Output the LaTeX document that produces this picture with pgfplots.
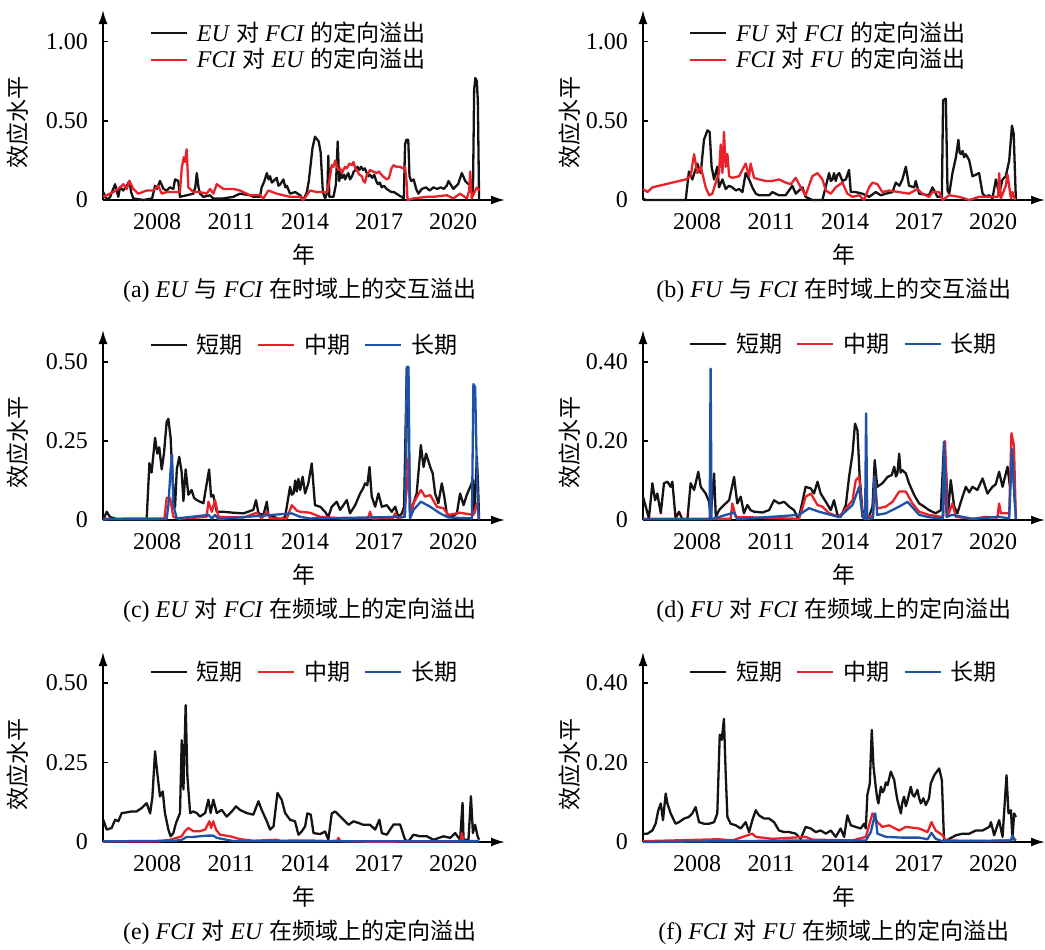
\documentclass[border=0pt]{standalone}
\usepackage{fontspec}
\setmainfont{Liberation Serif}
\newfontfamily\cjk[Scale=0.96]{Noto Sans CJK SC}
\usepackage{pgfplots}
\pgfplotsset{compat=1.18}
\usetikzlibrary{arrows.meta}
\newcommand{\zh}[1]{{\cjk #1}}
\definecolor{cred}{RGB}{232,34,40}
\definecolor{cblue}{RGB}{30,82,168}
\definecolor{cblk}{RGB}{20,20,20}
\pgfplotsset{
 panel/.style={
  scale only axis, width=201pt, height=95pt,
  xmin=2005.81, xmax=2022.1, ymin=0,
  axis lines=left,
  axis line style={line width=0.9pt, -{Latex[length=7pt,width=4.5pt]}},
  xtick={2008,2011,2014,2017,2020},
  xticklabels={2008,2011,2014,2017,2020},
  major x tick style={draw=none},
  tick align=inside, major tick length=2.5pt,
  major y tick style={line width=0.8pt, black},
  yticklabel style={anchor=east, xshift=-4pt},
  xticklabel style={yshift=-3pt},
  tick label style={font=\fontsize{12}{14}\selectfont},
  clip=false,
  font=\fontsize{12}{14}\selectfont,
  xlabel={\zh{年}},
  xlabel style={at={(axis description cs:0.5,-0.289)}, anchor=center},
  ylabel={\zh{效应水平}},
  legend style={draw=none, fill=none, inner sep=0pt, font=\fontsize{12}{14}\selectfont,
     nodes={inner sep=1pt}, /tikz/every even column/.append style={column sep=6pt}},
  legend cell align=left,
  legend image code/.code={\draw[##1, line width=1.1pt] (0pt,0pt) -- (18pt,0pt); \path (21.5pt,0pt);},
  every axis plot/.append style={line width=1.15pt, line join=round},
 },
 leftp/.style={ylabel style={at={(axis description cs:-0.211,0.41)}, anchor=center}},
 rightp/.style={ylabel style={at={(axis description cs:-0.182,0.41)}, anchor=center}},
}
\begin{document}
\begin{tikzpicture}
\useasboundingbox (0,0) rectangle (522.5pt,-474.5pt);
% ---------------- (a)
\begin{axis}[panel, leftp, at={(51.5pt,-100pt)}, anchor=south west,
  ymax=1.2, ytick={0,0.5,1}, yticklabels={0,0.50,1.00},
  legend style={at={(axis description cs:0.115,0.808)}, anchor=west}]
\addplot[cblk] coordinates {
(2005.82,0.05)(2005.96,0.0)(2006.10,0.02)(2006.30,0.10)(2006.43,0.02)(2006.50,0.08)(2006.63,0.06)(2006.77,0.09)(2006.88,0.12)(2006.95,0.05)(2007.04,0.01)(2007.45,0.0)(2007.80,0.01)(2007.92,0.09)(2008.0,0.07)(2008.12,0.12)(2008.26,0.07)(2008.39,0.06)(2008.52,0.08)(2008.66,0.07)(2008.73,0.13)(2008.86,0.12)(2008.93,0.02)(2009.20,0.03)(2009.47,0.04)(2009.55,0.08)(2009.61,0.17)(2009.68,0.08)(2009.74,0.04)(2009.88,0.02)(2010.15,0.03)(2010.28,0.01)(2010.69,0.01)(2011.09,0.02)(2011.36,0.04)(2011.77,0.03)(2011.90,0.02)(2012.17,0.02)(2012.24,0.08)(2012.35,0.12)(2012.45,0.17)(2012.52,0.13)(2012.58,0.15)(2012.65,0.11)(2012.72,0.12)(2012.85,0.14)(2012.92,0.09)(2013.0,0.10)(2013.12,0.13)(2013.20,0.08)(2013.26,0.09)(2013.39,0.04)(2013.60,0.05)(2013.80,0.03)(2013.93,0.0)(2014.07,0.05)(2014.15,0.12)(2014.30,0.33)(2014.40,0.40)(2014.55,0.37)(2014.63,0.30)(2014.72,0.05)(2014.81,0.01)(2014.90,0.05)(2014.94,0.28)(2014.98,0.02)(2015.15,0.02)(2015.25,0.10)(2015.32,0.37)(2015.38,0.12)(2015.45,0.17)(2015.50,0.14)(2015.58,0.16)(2015.62,0.13)(2015.68,0.15)(2015.75,0.17)(2015.82,0.13)(2015.90,0.15)(2015.97,0.18)(2016.05,0.19)(2016.12,0.21)(2016.20,0.19)(2016.27,0.21)(2016.35,0.19)(2016.42,0.20)(2016.50,0.17)(2016.57,0.15)(2016.63,0.16)(2016.72,0.14)(2016.80,0.16)(2016.88,0.12)(2016.95,0.10)(2017.03,0.11)(2017.10,0.08)(2017.20,0.09)(2017.30,0.07)(2017.40,0.06)(2017.50,0.05)(2017.60,0.05)(2017.70,0.04)(2017.90,0.02)(2018.00,0.01)(2018.05,0.35)(2018.10,0.38)(2018.18,0.38)(2018.23,0.15)(2018.30,0.12)(2018.40,0.13)(2018.50,0.07)(2018.59,0.04)(2018.73,0.07)(2018.90,0.08)(2019.05,0.06)(2019.20,0.08)(2019.35,0.07)(2019.50,0.08)(2019.62,0.07)(2019.74,0.09)(2019.81,0.12)(2020.01,0.07)(2020.20,0.10)(2020.35,0.17)(2020.49,0.12)(2020.69,0.09)(2020.80,0.03)(2020.85,0.70)(2020.90,0.77)(2020.96,0.75)(2021.00,0.62)(2021.05,0.0)
};
\addlegendentry{\textit{EU} \zh{对} \textit{FCI} \zh{的定向溢出}}
\addplot[cred] coordinates {
(2005.82,0.02)(2006.23,0.05)(2006.50,0.08)(2006.63,0.10)(2006.77,0.07)(2006.88,0.12)(2007.04,0.07)(2007.24,0.04)(2007.58,0.06)(2007.85,0.06)(2008.05,0.09)(2008.19,0.04)(2008.39,0.05)(2008.66,0.05)(2008.93,0.05)(2009.00,0.20)(2009.08,0.27)(2009.13,0.24)(2009.20,0.32)(2009.27,0.08)(2009.47,0.05)(2009.74,0.05)(2010.01,0.04)(2010.15,0.07)(2010.28,0.04)(2010.42,0.10)(2010.69,0.07)(2011.09,0.07)(2011.36,0.06)(2011.77,0.03)(2012.17,0.03)(2012.31,0.01)(2012.51,0.06)(2012.85,0.04)(2013.39,0.02)(2013.80,0.02)(2013.93,0.0)(2014.20,0.06)(2014.47,0.05)(2014.90,0.05)(2015.01,0.15)(2015.08,0.22)(2015.15,0.21)(2015.22,0.25)(2015.28,0.22)(2015.35,0.19)(2015.42,0.20)(2015.50,0.17)(2015.55,0.19)(2015.62,0.21)(2015.69,0.20)(2015.80,0.23)(2015.90,0.22)(2015.96,0.24)(2016.03,0.20)(2016.09,0.19)(2016.20,0.16)(2016.30,0.15)(2016.36,0.12)(2016.43,0.11)(2016.50,0.16)(2016.57,0.17)(2016.63,0.19)(2016.75,0.18)(2016.90,0.17)(2017.00,0.18)(2017.04,0.17)(2017.15,0.15)(2017.31,0.13)(2017.40,0.14)(2017.50,0.20)(2017.58,0.22)(2017.70,0.21)(2017.85,0.21)(2017.95,0.20)(2018.05,0.21)(2018.12,0.10)(2018.15,0.0)(2018.39,0.01)(2018.93,0.02)(2019.20,0.02)(2019.74,0.03)(2020.01,0.01)(2020.28,0.04)(2020.55,0.01)(2020.65,0.06)(2020.69,0.18)(2020.75,0.01)(2020.96,0.08)(2021.05,0.06)
};
\addlegendentry{\textit{FCI} \zh{对} \textit{EU} \zh{的定向溢出}}
\node at (axis description cs:0.49,-0.474) {(a) \textit{EU} \zh{与} \textit{FCI} \zh{在时域上的交互溢出}};
\end{axis}
% ---------------- (b)
\begin{axis}[panel, rightp, at={(321.5pt,-100pt)}, anchor=south west,
  ymax=1.2, ytick={0,0.5,1}, yticklabels={0,0.50,1.00},
  legend style={at={(axis description cs:0.113,0.808)}, anchor=west}]
\addplot[cblk] coordinates {
(2005.81,0.01)(2005.92,0.0)(2007.54,0.0)(2007.67,0.18)(2007.81,0.13)(2008.01,0.23)(2008.15,0.17)(2008.28,0.38)(2008.42,0.44)(2008.51,0.43)(2008.59,0.21)(2008.69,0.13)(2008.82,0.21)(2008.89,0.08)(2009.03,0.13)(2009.16,0.07)(2009.30,0.09)(2009.43,0.08)(2009.57,0.06)(2009.70,0.07)(2009.84,0.05)(2009.97,0.17)(2010.11,0.13)(2010.24,0.08)(2010.38,0.04)(2010.51,0.03)(2010.92,0.03)(2011.05,0.05)(2011.32,0.03)(2011.59,0.03)(2011.86,0.09)(2012.00,0.04)(2012.27,0.08)(2012.40,0.02)(2012.67,0.0)(2013.08,0.0)(2013.35,0.17)(2013.42,0.12)(2013.49,0.13)(2013.55,0.17)(2013.62,0.12)(2013.69,0.16)(2013.76,0.17)(2013.89,0.12)(2014.03,0.13)(2014.16,0.19)(2014.23,0.05)(2014.43,0.05)(2014.70,0.04)(2014.97,0.02)(2015.24,0.05)(2015.45,0.03)(2015.65,0.04)(2015.92,0.05)(2016.05,0.11)(2016.20,0.09)(2016.32,0.13)(2016.46,0.21)(2016.59,0.09)(2016.80,0.08)(2016.86,0.12)(2017.00,0.04)(2017.40,0.03)(2017.54,0.08)(2017.74,0.02)(2017.92,0.02)(2017.97,0.63)(2018.08,0.64)(2018.15,0.06)(2018.22,0.04)(2018.35,0.17)(2018.49,0.27)(2018.59,0.38)(2018.64,0.30)(2018.69,0.29)(2018.76,0.31)(2018.82,0.27)(2018.89,0.29)(2019.03,0.25)(2019.16,0.15)(2019.30,0.16)(2019.43,0.17)(2019.57,0.04)(2019.70,0.02)(2019.84,0.03)(2019.97,0.01)(2020.11,0.13)(2020.24,0.04)(2020.38,0.13)(2020.51,0.15)(2020.65,0.25)(2020.76,0.47)(2020.83,0.42)(2020.92,0.0)
};
\addlegendentry{\textit{FU} \zh{对} \textit{FCI} \zh{的定向溢出}}
\addplot[cred] coordinates {
(2005.81,0.07)(2005.99,0.05)(2006.19,0.08)(2006.46,0.09)(2006.73,0.10)(2007.00,0.11)(2007.27,0.12)(2007.54,0.13)(2007.74,0.15)(2007.88,0.29)(2008.01,0.17)(2008.15,0.21)(2008.35,0.08)(2008.49,0.03)(2008.62,0.04)(2008.76,0.11)(2008.89,0.17)(2008.96,0.35)(2009.03,0.17)(2009.09,0.43)(2009.16,0.21)(2009.23,0.29)(2009.30,0.15)(2009.43,0.14)(2009.70,0.15)(2009.97,0.23)(2010.11,0.15)(2010.17,0.23)(2010.31,0.14)(2010.51,0.13)(2010.78,0.12)(2011.05,0.12)(2011.32,0.13)(2011.59,0.11)(2011.80,0.10)(2012.00,0.14)(2012.20,0.08)(2012.40,0.03)(2012.67,0.15)(2012.88,0.17)(2013.08,0.13)(2013.22,0.06)(2013.42,0.04)(2013.62,0.08)(2013.89,0.11)(2014.09,0.04)(2014.30,0.02)(2014.57,0.03)(2014.77,0.0)(2014.97,0.08)(2015.11,0.11)(2015.31,0.10)(2015.51,0.05)(2015.78,0.06)(2016.19,0.05)(2016.59,0.04)(2016.93,0.07)(2017.13,0.04)(2017.40,0.02)(2017.54,0.05)(2017.81,0.05)(2017.95,0.0)(2018.22,0.03)(2018.62,0.02)(2019.03,0.0)(2019.43,0.02)(2019.84,0.02)(2020.04,0.02)(2020.20,0.02)(2020.24,0.17)(2020.31,0.01)(2020.51,0.09)(2020.58,0.16)(2020.72,0.01)(2020.78,0.05)(2020.89,0.0)
};
\addlegendentry{\textit{FCI} \zh{对} \textit{FU} \zh{的定向溢出}}
\node at (axis description cs:0.475,-0.474) {(b) \textit{FU} \zh{与} \textit{FCI} \zh{在时域上的交互溢出}};
\end{axis}
% ---------------- (c)
\begin{axis}[panel, leftp, at={(51.5pt,-260pt)}, anchor=south west,
  ymax=0.601, ytick={0,0.25,0.5}, yticklabels={0,0.25,0.50},
  legend columns=3,
  legend style={at={(axis description cs:0.115,0.921)}, anchor=west}]
\addplot[cblk] coordinates {
(2005.82,0.0)(2005.96,0.026)(2006.09,0.01)(2006.36,0.003)(2007.45,0.003)(2007.58,0.002)(2007.69,0.18)(2007.78,0.15)(2007.92,0.26)(2008.01,0.21)(2008.09,0.23)(2008.19,0.16)(2008.28,0.21)(2008.39,0.31)(2008.46,0.32)(2008.55,0.26)(2008.63,0.13)(2008.73,0.04)(2008.80,0.16)(2008.90,0.20)(2009.00,0.15)(2009.07,0.06)(2009.16,0.16)(2009.27,0.08)(2009.40,0.095)(2009.50,0.07)(2009.61,0.063)(2009.74,0.058)(2009.88,0.053)(2009.99,0.105)(2010.11,0.16)(2010.19,0.074)(2010.28,0.079)(2010.42,0.026)(2010.69,0.026)(2011.09,0.023)(2011.50,0.021)(2011.90,0.032)(2012.01,0.063)(2012.11,0.021)(2012.31,0.016)(2012.45,0.058)(2012.51,0.016)(2012.72,0.01)(2012.99,0.002)(2013.19,0.01)(2013.39,0.105)(2013.46,0.08)(2013.53,0.084)(2013.60,0.125)(2013.66,0.09)(2013.73,0.13)(2013.80,0.095)(2013.90,0.137)(2014.00,0.084)(2014.13,0.116)(2014.27,0.179)(2014.40,0.047)(2014.61,0.042)(2014.81,0.026)(2014.94,0.01)(2015.08,0.042)(2015.28,0.058)(2015.42,0.032)(2015.69,0.063)(2015.82,0.021)(2016.03,0.047)(2016.23,0.084)(2016.35,0.10)(2016.43,0.116)(2016.52,0.11)(2016.61,0.168)(2016.70,0.074)(2016.84,0.042)(2016.97,0.084)(2017.11,0.042)(2017.31,0.047)(2017.51,0.026)(2017.65,0.042)(2017.78,0.01)(2017.92,0.021)(2018.01,0.042)(2018.12,0.48)(2018.17,0.36)(2018.25,0.01)(2018.39,0.053)(2018.52,0.084)(2018.69,0.237)(2018.80,0.168)(2018.90,0.21)(2019.07,0.168)(2019.17,0.147)(2019.27,0.084)(2019.40,0.053)(2019.54,0.116)(2019.64,0.074)(2019.74,0.021)(2019.88,0.01)(2020.01,0.013)(2020.15,0.021)(2020.28,0.084)(2020.42,0.047)(2020.55,0.079)(2020.69,0.105)(2020.80,0.126)(2020.86,0.021)(2020.96,0.2)(2021.01,0.105)(2021.05,0.002)
};
\addlegendentry{\zh{短期}}
\addplot[cred] coordinates {
(2005.82,0.004)(2008.30,0.005)(2008.39,0.07)(2008.53,0.07)(2008.59,0.042)(2008.66,0.01)(2008.90,0.004)(2010.01,0.01)(2010.08,0.058)(2010.22,0.026)(2010.35,0.063)(2010.49,0.01)(2011.50,0.008)(2012.04,0.023)(2012.24,0.005)(2012.45,0.026)(2012.58,0.005)(2013.26,0.005)(2013.46,0.047)(2013.66,0.03)(2013.80,0.026)(2014.20,0.023)(2014.61,0.01)(2015.50,0.005)(2016.55,0.006)(2016.63,0.026)(2016.72,0.005)(2017.55,0.006)(2017.65,0.021)(2017.75,0.006)(2018.01,0.01)(2018.12,0.1)(2018.19,0.2)(2018.28,0.02)(2018.39,0.053)(2018.69,0.095)(2018.86,0.074)(2019.07,0.079)(2019.34,0.042)(2019.61,0.037)(2019.81,0.016)(2020.28,0.023)(2020.82,0.016)(2020.96,0.053)(2021.05,0.002)
};
\addlegendentry{\zh{中期}}
\addplot[cblue] coordinates {
(2005.82,0.002)(2008.39,0.003)(2008.46,0.047)(2008.55,0.16)(2008.61,0.205)(2008.66,0.047)(2008.80,0.005)(2010.08,0.016)(2010.22,0.005)(2010.35,0.016)(2010.49,0.003)(2013.46,0.021)(2013.80,0.01)(2014.20,0.005)(2018.05,0.01)(2018.12,0.485)(2018.19,0.485)(2018.25,0.005)(2018.39,0.032)(2018.69,0.058)(2019.07,0.042)(2019.47,0.021)(2019.81,0.008)(2020.76,0.005)(2020.82,0.43)(2020.89,0.42)(2020.96,0.15)(2021.03,0.002)
};
\addlegendentry{\zh{长期}}
\node at (axis description cs:0.49,-0.474) {(c) \textit{EU} \zh{对} \textit{FCI} \zh{在频域上的定向溢出}};
\end{axis}
% ---------------- (d)
\begin{axis}[panel, rightp, at={(321.5pt,-260pt)}, anchor=south west,
  ymax=0.481, ytick={0,0.2,0.4}, yticklabels={0,0.20,0.40},
  legend columns=3,
  legend style={at={(axis description cs:0.113,0.926)}, anchor=west}]
\addplot[cblk] coordinates {
(2005.81,0.059)(2005.92,0.034)(2006.05,0.004)(2006.19,0.093)(2006.30,0.05)(2006.39,0.067)(2006.53,0.017)(2006.66,0.093)(2006.80,0.097)(2006.93,0.084)(2007.00,0.097)(2007.13,0.004)(2007.27,0.021)(2007.40,0.002)(2007.61,0.002)(2007.74,0.093)(2007.88,0.076)(2008.05,0.122)(2008.15,0.084)(2008.35,0.067)(2008.49,0.046)(2008.55,0.008)(2008.69,0.118)(2008.76,0.008)(2008.89,0.025)(2009.09,0.038)(2009.30,0.05)(2009.50,0.109)(2009.63,0.042)(2009.77,0.059)(2009.90,0.017)(2010.04,0.038)(2010.17,0.025)(2010.31,0.021)(2010.65,0.019)(2010.92,0.025)(2011.12,0.05)(2011.32,0.042)(2011.53,0.046)(2011.73,0.034)(2011.93,0.025)(2012.11,0.002)(2012.27,0.046)(2012.40,0.084)(2012.61,0.08)(2012.74,0.067)(2012.88,0.097)(2013.01,0.067)(2013.22,0.046)(2013.42,0.025)(2013.55,0.05)(2013.69,0.013)(2013.82,0.008)(2014.03,0.038)(2014.16,0.109)(2014.30,0.168)(2014.40,0.244)(2014.50,0.227)(2014.59,0.109)(2014.70,0.025)(2014.84,0.002)(2014.97,0.008)(2015.11,0.034)(2015.20,0.152)(2015.30,0.084)(2015.51,0.093)(2015.72,0.109)(2015.89,0.114)(2015.99,0.135)(2016.06,0.11)(2016.12,0.118)(2016.19,0.168)(2016.25,0.12)(2016.32,0.126)(2016.46,0.118)(2016.59,0.093)(2016.80,0.063)(2017.00,0.042)(2017.20,0.034)(2017.40,0.025)(2017.67,0.017)(2017.88,0.025)(2018.01,0.198)(2018.08,0.135)(2018.17,0.017)(2018.28,0.101)(2018.42,0.034)(2018.55,0.017)(2018.69,0.046)(2018.89,0.084)(2019.03,0.07)(2019.16,0.084)(2019.36,0.076)(2019.57,0.105)(2019.77,0.067)(2019.97,0.084)(2020.10,0.09)(2020.24,0.122)(2020.38,0.084)(2020.58,0.135)(2020.68,0.084)(2020.78,0.16)(2020.89,0.034)
};
\addlegendentry{\zh{短期}}
\addplot[cred] coordinates {
(2005.81,0.003)(2009.36,0.003)(2009.43,0.042)(2009.57,0.008)(2012.13,0.003)(2012.27,0.03)(2012.40,0.059)(2012.61,0.067)(2012.88,0.038)(2013.08,0.034)(2013.35,0.017)(2013.76,0.008)(2014.30,0.05)(2014.43,0.1)(2014.57,0.11)(2014.70,0.017)(2014.84,0.008)(2015.13,0.01)(2015.20,0.11)(2015.30,0.029)(2015.65,0.034)(2015.92,0.046)(2016.19,0.072)(2016.46,0.072)(2016.73,0.042)(2017.00,0.021)(2017.40,0.013)(2017.88,0.008)(2017.98,0.01)(2018.05,0.2)(2018.15,0.008)(2018.35,0.042)(2018.49,0.008)(2019.16,0.003)(2019.70,0.008)(2020.17,0.006)(2020.24,0.042)(2020.31,0.017)(2020.65,0.017)(2020.74,0.22)(2020.84,0.19)(2020.92,0.002)
};
\addlegendentry{\zh{中期}}
\addplot[cblue] coordinates {
(2005.81,0.002)(2008.51,0.002)(2008.55,0.383)(2008.59,0.002)(2009.50,0.019)(2009.63,0.002)(2012.13,0.013)(2012.54,0.03)(2012.94,0.021)(2013.76,0.007)(2014.30,0.038)(2014.57,0.084)(2014.70,0.008)(2014.81,0.002)(2014.85,0.27)(2014.90,0.002)(2015.13,0.005)(2015.20,0.11)(2015.30,0.013)(2015.65,0.017)(2016.19,0.034)(2016.53,0.046)(2017.00,0.013)(2017.40,0.007)(2017.95,0.004)(2018.01,0.198)(2018.11,0.008)(2018.35,0.013)(2019.16,0.003)(2020.24,0.008)(2020.65,0.004)(2020.76,0.18)(2020.84,0.084)(2020.92,0.002)
};
\addlegendentry{\zh{长期}}
\node at (axis description cs:0.475,-0.474) {(d) \textit{FU} \zh{对} \textit{FCI} \zh{在频域上的定向溢出}};
\end{axis}
% ---------------- (e)
\begin{axis}[panel, leftp, at={(51.5pt,-421pt)}, anchor=south west,
  ymax=0.597, ytick={0,0.25,0.5}, yticklabels={0,0.25,0.50},
  legend columns=3,
  legend style={at={(axis description cs:0.115,0.895)}, anchor=west}]
\addplot[cblk] coordinates {
(2005.82,0.07)(2005.96,0.039)(2006.16,0.044)(2006.30,0.07)(2006.43,0.065)(2006.57,0.091)(2006.77,0.093)(2006.97,0.096)(2007.17,0.096)(2007.38,0.107)(2007.58,0.122)(2007.72,0.09)(2007.81,0.14)(2007.92,0.285)(2008.01,0.216)(2008.12,0.143)(2008.23,0.159)(2008.32,0.091)(2008.46,0.039)(2008.55,0.018)(2008.66,0.028)(2008.77,0.06)(2008.93,0.091)(2009.00,0.32)(2009.07,0.165)(2009.16,0.43)(2009.23,0.206)(2009.34,0.091)(2009.47,0.096)(2009.61,0.091)(2009.74,0.08)(2009.95,0.091)(2010.08,0.133)(2010.17,0.091)(2010.28,0.133)(2010.42,0.091)(2010.62,0.101)(2010.82,0.08)(2011.03,0.096)(2011.20,0.112)(2011.36,0.101)(2011.63,0.091)(2011.90,0.086)(2012.11,0.128)(2012.24,0.101)(2012.45,0.065)(2012.58,0.039)(2012.72,0.049)(2012.88,0.154)(2013.05,0.133)(2013.19,0.091)(2013.39,0.07)(2013.59,0.065)(2013.73,0.023)(2013.86,0.033)(2014.00,0.049)(2014.09,0.09)(2014.23,0.086)(2014.34,0.028)(2014.61,0.025)(2014.81,0.033)(2014.94,0.007)(2015.08,0.09)(2015.22,0.096)(2015.35,0.086)(2015.55,0.07)(2015.76,0.054)(2015.96,0.065)(2016.16,0.06)(2016.36,0.054)(2016.63,0.054)(2016.84,0.039)(2017.01,0.07)(2017.11,0.028)(2017.31,0.023)(2017.58,0.055)(2017.85,0.055)(2018.05,0.007)(2018.19,0.002)(2018.39,0.023)(2018.66,0.018)(2018.93,0.018)(2019.20,0.007)(2019.61,0.018)(2019.88,0.013)(2020.08,0.028)(2020.28,0.007)(2020.38,0.123)(2020.42,0.007)(2020.62,0.007)(2020.72,0.144)(2020.80,0.028)(2020.89,0.054)(2020.99,0.018)(2021.05,0.007)
};
\addlegendentry{\zh{短期}}
\addplot[cred] coordinates {
(2005.82,0.002)(2008.05,0.002)(2008.53,0.007)(2009.00,0.018)(2009.13,0.034)(2009.27,0.044)(2009.47,0.034)(2009.74,0.034)(2009.95,0.039)(2010.12,0.065)(2010.19,0.044)(2010.28,0.065)(2010.39,0.039)(2010.55,0.023)(2010.96,0.018)(2011.36,0.009)(2011.90,0.004)(2012.85,0.007)(2012.99,0.004)(2014.09,0.005)(2014.94,0.003)(2015.30,0.004)(2015.35,0.013)(2015.42,0.003)(2016.50,0.001)(2020.30,0.002)(2020.35,0.028)(2020.42,0.003)(2021.05,0.003)
};
\addlegendentry{\zh{中期}}
\addplot[cblue] coordinates {
(2005.82,0.002)(2008.73,0.004)(2009.00,0.007)(2009.20,0.016)(2009.47,0.016)(2010.01,0.02)(2010.28,0.02)(2010.42,0.013)(2010.82,0.007)(2011.09,0.003)(2021.05,0.002)
};
\addlegendentry{\zh{长期}}
\node at (axis description cs:0.49,-0.474) {(e) \textit{FCI} \zh{对} \textit{EU} \zh{在频域上的定向溢出}};
\end{axis}
% ---------------- (f)
\begin{axis}[panel, rightp, at={(321.5pt,-421pt)}, anchor=south west,
  ymax=0.478, ytick={0,0.2,0.4}, yticklabels={0,0.20,0.40},
  legend columns=3,
  legend style={at={(axis description cs:0.113,0.895)}, anchor=west}]
\addplot[cblk] coordinates {
(2005.81,0.021)(2005.99,0.021)(2006.19,0.029)(2006.32,0.046)(2006.43,0.08)(2006.53,0.097)(2006.62,0.055)(2006.73,0.122)(2006.80,0.097)(2006.93,0.072)(2007.13,0.046)(2007.27,0.05)(2007.47,0.059)(2007.67,0.063)(2007.81,0.072)(2007.94,0.088)(2008.08,0.05)(2008.28,0.046)(2008.49,0.046)(2008.69,0.05)(2008.82,0.072)(2008.92,0.27)(2009.00,0.257)(2009.09,0.31)(2009.16,0.173)(2009.23,0.063)(2009.36,0.046)(2009.57,0.042)(2009.77,0.034)(2009.97,0.05)(2010.11,0.025)(2010.24,0.055)(2010.38,0.08)(2010.51,0.067)(2010.72,0.059)(2010.92,0.059)(2011.12,0.05)(2011.32,0.029)(2011.53,0.025)(2011.73,0.025)(2012.00,0.021)(2012.20,0.008)(2012.40,0.038)(2012.61,0.034)(2012.81,0.025)(2013.01,0.029)(2013.22,0.021)(2013.42,0.029)(2013.62,0.013)(2013.82,0.034)(2013.96,0.013)(2014.09,0.067)(2014.23,0.042)(2014.43,0.038)(2014.63,0.034)(2014.77,0.046)(2014.84,0.034)(2014.90,0.118)(2015.00,0.147)(2015.08,0.282)(2015.15,0.19)(2015.24,0.139)(2015.30,0.11)(2015.35,0.097)(2015.45,0.139)(2015.52,0.125)(2015.58,0.131)(2015.65,0.15)(2015.72,0.143)(2015.85,0.177)(2015.99,0.156)(2016.05,0.13)(2016.12,0.105)(2016.26,0.072)(2016.32,0.10)(2016.39,0.114)(2016.46,0.09)(2016.53,0.105)(2016.66,0.139)(2016.73,0.12)(2016.80,0.114)(2016.93,0.131)(2017.00,0.11)(2017.07,0.097)(2017.17,0.11)(2017.27,0.093)(2017.40,0.11)(2017.47,0.147)(2017.61,0.168)(2017.81,0.185)(2017.92,0.156)(2018.01,0.0)(2018.22,0.008)(2018.49,0.017)(2018.76,0.021)(2019.03,0.021)(2019.30,0.029)(2019.57,0.029)(2019.84,0.038)(2019.91,0.05)(2020.04,0.017)(2020.24,0.055)(2020.38,0.013)(2020.54,0.168)(2020.62,0.072)(2020.72,0.08)(2020.78,0.008)(2020.85,0.072)(2020.92,0.063)
};
\addlegendentry{\zh{短期}}
\addplot[cred] coordinates {
(2005.81,0.002)(2008.89,0.007)(2009.43,0.004)(2010.24,0.021)(2010.38,0.013)(2011.05,0.008)(2012.40,0.013)(2012.67,0.006)(2014.30,0.004)(2014.84,0.013)(2015.11,0.072)(2015.31,0.05)(2015.51,0.038)(2015.78,0.042)(2016.19,0.029)(2016.46,0.038)(2017.00,0.034)(2017.34,0.025)(2017.50,0.05)(2017.67,0.029)(2017.95,0.017)(2018.08,0.004)(2019.84,0.002)(2020.72,0.004)(2020.78,0.013)(2020.92,0.004)
};
\addlegendentry{\zh{中期}}
\addplot[cblue] coordinates {
(2005.81,0.0)(2012.40,0.004)(2014.84,0.004)(2015.04,0.025)(2015.22,0.072)(2015.31,0.021)(2015.65,0.013)(2016.32,0.011)(2017.00,0.011)(2017.34,0.007)(2017.50,0.023)(2017.67,0.008)(2017.95,0.002)(2020.72,0.004)(2020.78,0.017)(2020.88,0.002)
};
\addlegendentry{\zh{长期}}
\node at (axis description cs:0.475,-0.474) {(f) \textit{FCI} \zh{对} \textit{FU} \zh{在频域上的定向溢出}};
\end{axis}
\end{tikzpicture}
\end{document}
